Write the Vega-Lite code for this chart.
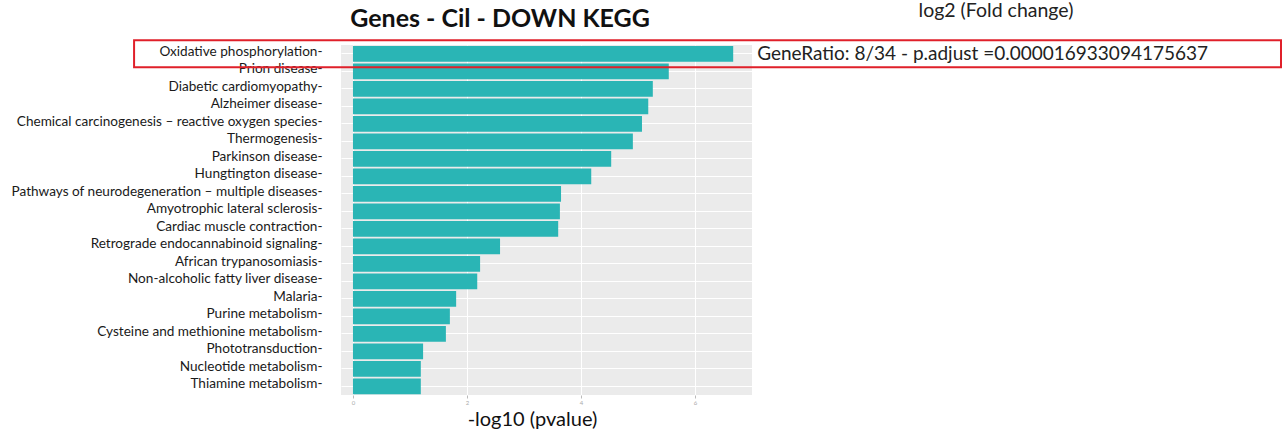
{
  "$schema": "https://vega.github.io/schema/vega-lite/v6.json",
  "autosize": {"type": "none"},
  "width": 411,
  "height": 350,
  "padding": {"left": 341, "top": 45, "right": 532, "bottom": 40},
  "background": "white",
  "config": {
    "view": {"fill": "#EBEBEB", "stroke": null},
    "font": "Lato"
  },
  "data": {
    "values": [
      {"pathway": "Oxidative phosphorylation", "value": 6.67},
      {"pathway": "Prion disease", "value": 5.54},
      {"pathway": "Diabetic cardiomyopathy", "value": 5.26},
      {"pathway": "Alzheimer disease", "value": 5.18},
      {"pathway": "Chemical carcinogenesis – reactive oxygen species", "value": 5.07},
      {"pathway": "Thermogenesis", "value": 4.91},
      {"pathway": "Parkinson disease", "value": 4.53},
      {"pathway": "Hungtington disease", "value": 4.18},
      {"pathway": "Pathways of neurodegeneration – multiple diseases", "value": 3.65},
      {"pathway": "Amyotrophic lateral sclerosis", "value": 3.63},
      {"pathway": "Cardiac muscle contraction", "value": 3.6},
      {"pathway": "Retrograde endocannabinoid signaling", "value": 2.58},
      {"pathway": "African trypanosomiasis", "value": 2.23},
      {"pathway": "Non-alcoholic fatty liver disease", "value": 2.18},
      {"pathway": "Malaria", "value": 1.81},
      {"pathway": "Purine metabolism", "value": 1.7},
      {"pathway": "Cysteine and methionine metabolism", "value": 1.63},
      {"pathway": "Phototransduction", "value": 1.23},
      {"pathway": "Nucleotide metabolism", "value": 1.19},
      {"pathway": "Thiamine metabolism", "value": 1.19}
    ]
  },
  "encoding": {
    "y": {
      "field": "pathway",
      "type": "nominal",
      "sort": null,
      "scale": {"paddingInner": 0.1, "paddingOuter": 0.05},
      "axis": {
        "title": null,
        "domain": false,
        "ticks": false,
        "grid": true,
        "gridColor": "#FFFFFF",
        "gridWidth": 1,
        "labelFont": "Lato",
        "labelFontSize": 13.6,
        "labelColor": "#1a1a1a",
        "labelPadding": 19,
        "labelOffset": -2,
        "labelLimit": 400,
        "labelExpr": "datum.label + '-'"
      }
    }
  },
  "layer": [
    {
      "mark": {"type": "bar", "color": "#2AB5B5"},
      "encoding": {
        "x": {
          "field": "value",
          "type": "quantitative",
          "scale": {"domain": [-0.21, 7.0], "nice": false, "zero": false},
          "axis": {
            "values": [0, 2, 4, 6],
            "format": "d",
            "title": "-log10 (pvalue)",
            "titleFont": "Lato",
            "titleFontSize": 20,
            "titleFontWeight": "normal",
            "titleColor": "#111111",
            "titleX": 191,
            "titleY": 30,
            "titleBaseline": "alphabetic",
            "domain": false,
            "grid": true,
            "gridColor": "#FFFFFF",
            "tickColor": "#BBBBBB",
            "tickSize": 3,
            "labelFontSize": 6,
            "labelColor": "#AAAAAA",
            "labelPadding": 1
          }
        }
      }
    },
    {
      "transform": [{"filter": "datum.pathway === 'Oxidative phosphorylation'"}],
      "mark": {"type": "bar", "fill": "transparent", "stroke": "#E0202A", "strokeWidth": 2, "height": {"band": 1.71}},
      "encoding": {
        "x": {"datum": -3.84, "type": "quantitative"},
        "x2": {"datum": 16.28}
      }
    },
    {
      "transform": [{"filter": "datum.pathway === 'Oxidative phosphorylation'"}],
      "mark": {"type": "text", "align": "left", "baseline": "middle", "font": "Lato", "fontSize": 19, "color": "#222222"},
      "encoding": {
        "x": {"datum": 7.09, "type": "quantitative"},
        "text": {"value": "GeneRatio: 8/34 - p.adjust =0.000016933094175637"}
      }
    },
    {
      "transform": [{"filter": "datum.pathway === 'Oxidative phosphorylation'"}],
      "mark": {"type": "text", "align": "center", "baseline": "alphabetic", "font": "Lato", "fontSize": 19.5, "color": "#222222", "yOffset": -36.5},
      "encoding": {
        "x": {"datum": 11.28, "type": "quantitative"},
        "text": {"value": "log2 (Fold change)"}
      }
    },
    {
      "transform": [{"filter": "datum.pathway === 'Oxidative phosphorylation'"}],
      "mark": {"type": "text", "align": "center", "baseline": "alphabetic", "font": "Lato", "fontSize": 25, "fontWeight": "bold", "color": "#111111", "yOffset": -26.5},
      "encoding": {
        "x": {"datum": 2.58, "type": "quantitative"},
        "text": {"value": "Genes - Cil - DOWN KEGG"}
      }
    }
  ]
}
